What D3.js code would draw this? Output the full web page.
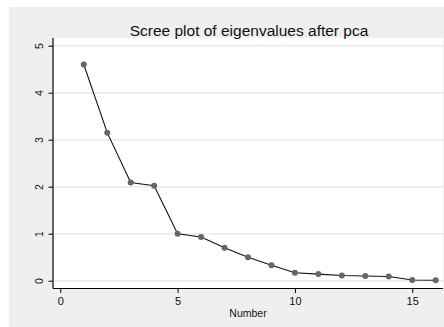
<!DOCTYPE html>
<html>
<head>
<meta charset="utf-8">
<script src="https://cdn.jsdelivr.net/npm/d3@7"></script>
<style>
  html, body { margin: 0; padding: 0; background: #fff; }
  svg { display: block; font-family: "Liberation Sans", Arial, sans-serif; }
</style>
</head>
<body>
<svg id="chart" width="444" height="327"></svg>
<script>
// Eigenvalues from the principal component analysis, by component number
const componentNumbers = [1, 2, 3, 4, 5, 6, 7, 8, 9, 10, 11, 12, 13, 14, 15, 16];
const eigenvalues = [4.60, 3.15, 2.09, 2.02, 1.00, 0.93, 0.70, 0.50, 0.33, 0.17, 0.14, 0.11, 0.10, 0.09, 0.015, 0.01];
const xTicks = [0, 5, 10, 15];
const yTicks = [0, 1, 2, 3, 4, 5];
const chartTitle = "Scree plot of eigenvalues after pca";
const xTitle = "Number";

const svg = d3.select("#chart");
const W = 444, H = 327;

// Outer graph region
svg.append("rect").attr("x", 9).attr("y", 7).attr("width", W - 9).attr("height", H - 7)
  .attr("fill", "#efefef");

const plot = { left: 53, right: 443, top: 38, bottom: 288.5 };
svg.append("rect").attr("x", plot.left).attr("y", plot.top)
  .attr("width", plot.right - plot.left).attr("height", plot.bottom - plot.top)
  .attr("fill", "#ffffff");

const x = d3.scaleLinear().domain([0, 16]).range([60.3, 435.7]);
const y = d3.scaleLinear().domain([0, 5]).range([280.7, 45.7]);

// Horizontal grid lines
svg.append("g").selectAll("line").data(yTicks).join("line")
  .attr("x1", plot.left).attr("x2", plot.right)
  .attr("y1", d => y(d)).attr("y2", d => y(d))
  .attr("stroke", "#eaeaea").attr("stroke-width", 1.5);

// Y axis with rotated tick labels
const yAxis = svg.append("g").attr("transform", `translate(${plot.left},0)`)
  .call(d3.axisLeft(y).tickValues(yTicks).tickSize(4.5).tickFormat(d3.format("d")));
yAxis.select(".domain").attr("d", `M0,${plot.top}V${plot.bottom}`).attr("stroke", "#000").attr("stroke-width", 1.2);
yAxis.selectAll(".tick line").attr("stroke", "#000");
yAxis.selectAll(".tick text")
  .attr("font-size", 10.5).attr("fill", "#111")
  .attr("text-anchor", "middle")
  .attr("x", 0).attr("y", 0).attr("dy", 0)
  .attr("transform", "translate(-10,0) rotate(-90)");

// X axis
const xAxis = svg.append("g").attr("transform", `translate(0,${plot.bottom})`)
  .call(d3.axisBottom(x).tickValues(xTicks).tickSize(4.5).tickPadding(4).tickFormat(d3.format("d")));
xAxis.select(".domain").attr("d", `M${plot.left},0H${plot.right}`).attr("stroke", "#000").attr("stroke-width", 1.2);
xAxis.selectAll(".tick line").attr("stroke", "#000");
xAxis.selectAll(".tick text").attr("font-size", 11).attr("fill", "#111");

// Scree line and markers
const pts = componentNumbers.map((n, i) => [n, eigenvalues[i]]);
svg.append("path").datum(pts)
  .attr("d", d3.line().x(d => x(d[0])).y(d => y(d[1])))
  .attr("fill", "none").attr("stroke", "#111").attr("stroke-width", 1.1);
svg.append("g").selectAll("circle").data(pts).join("circle")
  .attr("cx", d => x(d[0])).attr("cy", d => y(d[1])).attr("r", 3)
  .attr("fill", "#666666");

// Titles
svg.append("text").attr("x", 249).attr("y", 35.5).attr("text-anchor", "middle")
  .attr("font-size", 15.5).attr("fill", "#111").text(chartTitle);
svg.append("text").attr("x", 248).attr("y", 316.5).attr("text-anchor", "middle")
  .attr("font-size", 10.5).attr("fill", "#111").text(xTitle);
</script>
</body>
</html>
